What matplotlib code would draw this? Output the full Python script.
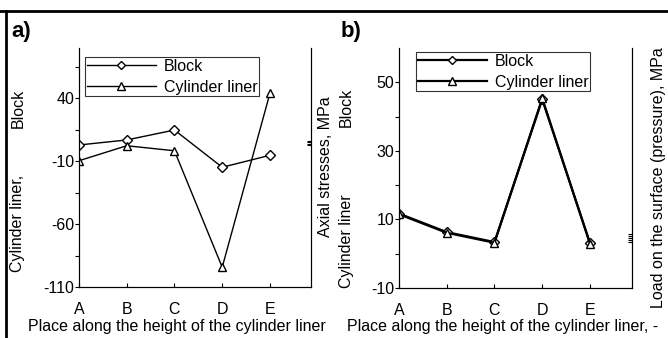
import matplotlib
matplotlib.use("Agg")
import matplotlib.pyplot as plt
from matplotlib.lines import Line2D

plt.rcParams['font.family'] = ['Liberation Sans', 'DejaVu Sans']
plt.rcParams['axes.unicode_minus'] = False

W, H = 668, 338

places = ["A", "B", "C", "D", "E"]

# panel a) axial stresses, MPa
block_a = [2.9, 6.9, 14.8, -14.8, -5.3]
liner_a = [-9.6, 2.3, -1.7, -94.3, 44.0]
yticks_a = [-110, -60, -10, 40]
yminor_a = [-85, -35, 15, 65]
# panel b) load on the surface (pressure), MPa
block_b = [11.7, 6.3, 3.4, 45.0, 3.1]
liner_b = [11.5, 6.1, 3.2, 45.3, 2.9]
yticks_b = [-10, 10, 30, 50]
yminor_b = [0, 20, 40]

# stray right-axis ticks left in the original figure
right_ticks_a = [3.0, 4.0, 5.0, 6.0]
right_ticks_b = [3.4, 4.0, 4.6, 5.2, 5.8]


def px(x0, y0, x1, y1):
    return [x0 / W, 1 - y1 / H, (x1 - x0) / W, (y1 - y0) / H]


fig = plt.figure(figsize=(W / 100, H / 100), dpi=100)


def panel(rect, xmax, ylim, major, minor, b, c, lw, rticks, leg_xy):
    ax = fig.add_axes(rect)
    x = range(len(places))
    ax.plot(x, b, color="black", lw=lw, marker="D", ms=5, mfc="white",
            mec="black", mew=1, label="Block")
    ax.plot(x, c, color="black", lw=lw, marker="^", ms=6, mfc="white",
            mec="black", mew=1, label="Cylinder liner")
    ax.set_xlim(0, xmax)
    ax.set_ylim(*ylim)
    ax.set_xticks(list(x))
    ax.set_xticklabels(places)
    ax.set_yticks(major)
    ax.set_yticks(minor, minor=True)
    ax.spines["top"].set_visible(False)
    for s in ax.spines.values():
        s.set_linewidth(0.8)
    ax.tick_params(axis="y", which="both", direction="out", length=3,
                   width=0.8, pad=0.5, labelsize=11.5)
    ax.tick_params(axis="x", direction="in", length=3, width=0.8,
                   pad=11, labelsize=11.5)
    axr = ax.twinx()
    axr.set_ylim(*ylim)
    axr.set_yticks(rticks)
    axr.tick_params(axis="y", direction="in", length=3, width=0.8,
                    labelright=False)
    axr.spines["top"].set_visible(False)
    axr.spines["right"].set_linewidth(0.8)
    leg = ax.legend(loc="upper left", bbox_to_anchor=(leg_xy[0] / W, 1 - leg_xy[1] / H),
                    bbox_transform=fig.transFigure, borderaxespad=0,
                    fancybox=False, frameon=True, edgecolor="black",
                    fontsize=11.5, handlelength=4.3, handletextpad=0.5,
                    borderpad=0.12, labelspacing=0.35, markerscale=0.85)
    leg.get_frame().set_linewidth(0.8)
    leg.set_zorder(5)
    return ax


panel(px(79, 48, 311, 287), 4.86, (-110, 80), yticks_a, yminor_a, block_a, liner_a, 1.0,
      right_ticks_a, (85, 57))
panel(px(399, 48, 632, 288), 4.88, (-10, 60), yticks_b, yminor_b, block_b, liner_b, 1.6,
      right_ticks_b, (416, 52))

fs = 11.5
fig.text(18 / W, 1 - 108 / H, "Block", rotation=90, ha="center", va="center", fontsize=fs)
fig.text(18 / W, 1 - 223 / H, "Cylinder liner,", rotation=90, ha="center", va="center", fontsize=fs)
fig.text(326 / W, 1 - 167 / H, "Axial stresses, MPa", rotation=90, ha="center", va="center", fontsize=fs)
fig.text(28 / W, 1 - 327 / H, "Place along the height of the cylinder liner",
         ha="left", va="center", fontsize=fs)

fig.text(346 / W, 1 - 107 / H, "Block", rotation=90, ha="center", va="center", fontsize=fs)
fig.text(346 / W, 1 - 241 / H, "Cylinder liner", rotation=90, ha="center", va="center", fontsize=fs)
fig.text(658 / W, 1 - 178 / H, "Load on the surface (pressure), MPa", rotation=90,
         ha="center", va="center", fontsize=fs)
fig.text(347 / W, 1 - 327 / H, "Place along the height of the cylinder liner, -",
         ha="left", va="center", fontsize=fs)

fig.text(11 / W, 1 - 31 / H, "a)", ha="left", va="center", fontsize=16, fontweight="bold")
fig.text(341 / W, 1 - 31 / H, "b)", ha="left", va="center", fontsize=16, fontweight="bold")

# frame lines of the cropped original
fig.add_artist(Line2D([0, 1], [1 - 10.5 / H, 1 - 10.5 / H], color="black", lw=2,
                      transform=fig.transFigure))
fig.add_artist(Line2D([6 / W, 6 / W], [0, 1 - 10.5 / H], color="black", lw=2,
                      transform=fig.transFigure))

fig.savefig("out.png", dpi=100)
